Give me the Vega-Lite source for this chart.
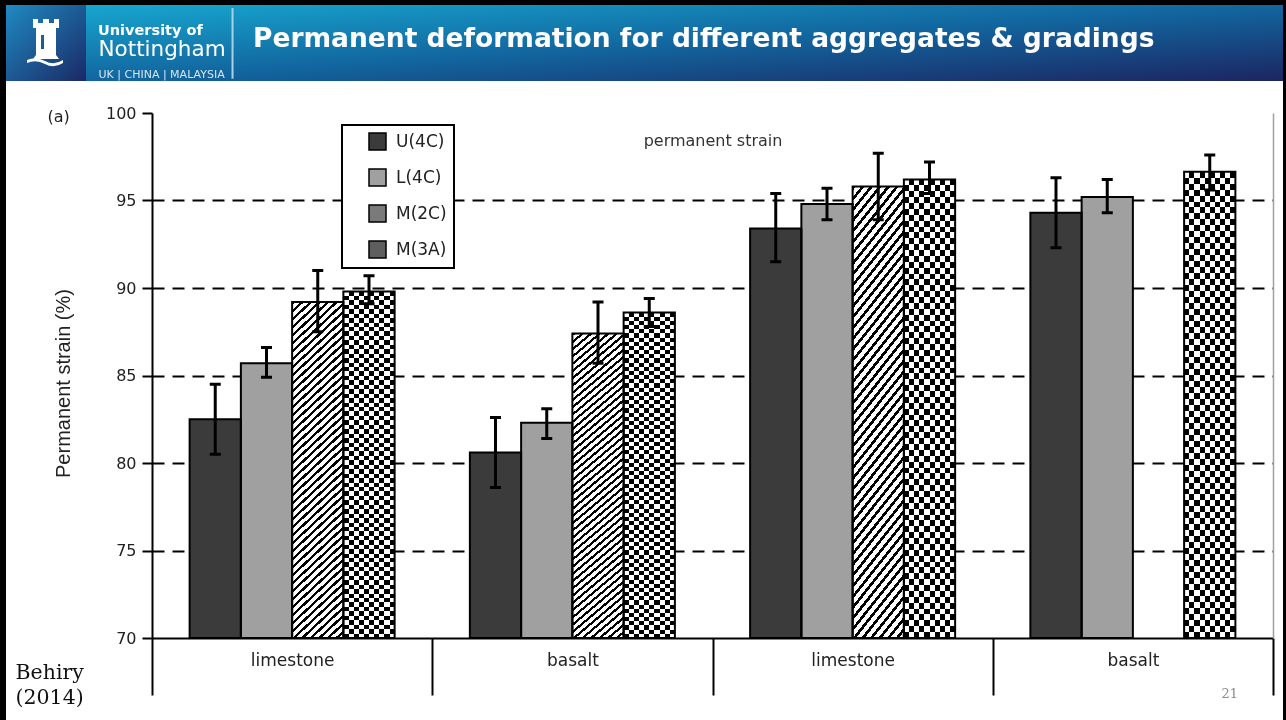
{
  "$schema": "https://vega.github.io/schema/vega-lite/v6.json",
  "background": "#000000",
  "padding": {"left": 6, "top": 5, "right": 3, "bottom": 0},
  "spacing": 0,
  "config": {"view": {"stroke": null}, "font": "DejaVu Sans", "legend": {"strokeWidth": 2}},
  "vconcat": [
    {
      "spacing": 0,
      "hconcat": [
        {
          "width": 80,
          "height": 76,
          "view": {"stroke": null, "fill": {"gradient": "linear", "x1": 0, "y1": 0, "x2": 1, "y2": 1, "stops": [{"offset": 0, "color": "#1f8ac2"}, {"offset": 1, "color": "#1b2966"}]}},
          "data": {"values": [{"emblem": "castle"}]},
          "mark": {"type": "point", "shape": "M-0.542,-1L-0.333,-1L-0.333,-0.833L-0.125,-0.833L-0.125,-1L0.125,-1L0.125,-0.833L0.333,-0.833L0.333,-1L0.542,-1L0.542,-0.625L0.417,-0.625L0.417,0.5L0.542,0.667L-0.542,0.667L-0.417,0.5L-0.417,-0.625L-0.542,-0.625ZM-0.208,-0.333L-0.208,0.25L-0.083,0.25L-0.083,-0.333ZM-0.792,0.708Q-0.417,0.542,-0.042,0.75Q0.333,0.958,0.708,0.708L0.708,0.833Q0.333,1.083,-0.042,0.875Q-0.417,0.667,-0.792,0.833Z", "size": 2304, "filled": true, "fill": "#ffffff", "opacity": 1, "strokeWidth": 0}
        },
        {
          "width": 148,
          "height": 76,
          "view": {"stroke": null, "fill": {"gradient": "linear", "x1": 0, "y1": 0, "x2": 0.2435, "y2": 1.97, "stops": [{"offset": 0, "color": "#17a6cf"}, {"offset": 0.5, "color": "#12669f"}, {"offset": 1, "color": "#1c2561"}]}},
          "title": {"text": "University of", "orient": "top", "anchor": "start", "frame": "group", "offset": -44.5, "dx": 12, "baseline": "alphabetic", "font": "DejaVu Sans", "fontSize": 14.5, "fontWeight": "bold", "color": "#ffffff"},
          "data": {"values": [{"part": "separator"}]},
          "mark": {"type": "rule", "color": "#a9d0e6", "strokeWidth": 2},
          "encoding": {
            "x": {"datum": 0.99, "type": "quantitative", "scale": {"domain": [0, 1]}, "axis": {"orient": "bottom", "domain": false, "ticks": false, "labels": false, "grid": false, "title": "UK | CHINA | MALAYSIA", "titleX": 12, "titleY": -4, "titleAlign": "left", "titleAnchor": "start", "titleBaseline": "alphabetic", "titleFont": "DejaVu Sans", "titleFontSize": 11, "titleFontWeight": "normal", "titleColor": "#d3e6f2", "titlePadding": 0}},
            "y": {"datum": 0.03, "type": "quantitative", "scale": {"domain": [0, 1]}, "axis": {"orient": "left", "domain": false, "ticks": false, "labels": false, "grid": false, "title": "Nottingham", "titleX": 12, "titleY": 50, "titleAngle": 0, "titleAlign": "left", "titleAnchor": "start", "titleBaseline": "alphabetic", "titleFont": "DejaVu Sans", "titleFontSize": 21.5, "titleFontWeight": "normal", "titleColor": "#ffffff"}},
            "y2": {"datum": 0.96}
          }
        },
        {
          "width": 1049,
          "height": 76,
          "view": {"stroke": null, "fill": {"gradient": "linear", "x1": -0.141, "y1": 0, "x2": 0.8503, "y2": 1.1312, "stops": [{"offset": 0, "color": "#17a6cf"}, {"offset": 0.5, "color": "#12669f"}, {"offset": 1, "color": "#1c2561"}]}},
          "title": {"text": "Permanent deformation for different aggregates & gradings", "orient": "top", "anchor": "start", "frame": "group", "offset": -68.5, "dx": 19, "baseline": "alphabetic", "font": "DejaVu Sans", "fontSize": 26.5, "fontWeight": "bold", "color": "#ffffff"},
          "data": {"values": []},
          "mark": "point"
        }
      ]
    },
    {
      "width": 1277,
      "height": 639,
      "view": {"fill": "#ffffff", "stroke": null},
      "title": {"text": "permanent strain", "orient": "top", "anchor": "middle", "frame": "group", "offset": -81, "dx": 68.5, "baseline": "alphabetic", "font": "DejaVu Sans", "fontSize": 16, "fontWeight": "normal", "color": "#333333"},
      "data": {"values": [
        {"group": "limestone 1", "grade": "U(4C)", "strain": 82.5, "low": 80.5, "high": 84.5},
        {"group": "limestone 1", "grade": "L(4C)", "strain": 85.7, "low": 84.9, "high": 86.6},
        {"group": "limestone 1", "grade": "M(2C)", "strain": 89.2, "low": 87.5, "high": 91.0},
        {"group": "limestone 1", "grade": "M(3A)", "strain": 89.8, "low": 89.1, "high": 90.7},
        {"group": "basalt 1", "grade": "U(4C)", "strain": 80.6, "low": 78.6, "high": 82.6},
        {"group": "basalt 1", "grade": "L(4C)", "strain": 82.3, "low": 81.4, "high": 83.1},
        {"group": "basalt 1", "grade": "M(2C)", "strain": 87.4, "low": 85.7, "high": 89.2},
        {"group": "basalt 1", "grade": "M(3A)", "strain": 88.6, "low": 87.8, "high": 89.4},
        {"group": "limestone 2", "grade": "U(4C)", "strain": 93.4, "low": 91.5, "high": 95.4},
        {"group": "limestone 2", "grade": "L(4C)", "strain": 94.8, "low": 93.9, "high": 95.7},
        {"group": "limestone 2", "grade": "M(2C)", "strain": 95.8, "low": 93.9, "high": 97.7},
        {"group": "limestone 2", "grade": "M(3A)", "strain": 96.2, "low": 95.4, "high": 97.2},
        {"group": "basalt 2", "grade": "U(4C)", "strain": 94.3, "low": 92.3, "high": 96.3},
        {"group": "basalt 2", "grade": "L(4C)", "strain": 95.2, "low": 94.3, "high": 96.2},
        {"group": "basalt 2", "grade": "M(3A)", "strain": 96.65, "low": 95.6, "high": 97.6}
      ]},
      "resolve": {"axis": {"x": "independent", "y": "independent"}},
      "layer": [
        {
          "mark": {"type": "bar", "strokeWidth": 0},
          "encoding": {
            "x": {"field": "group", "type": "nominal", "scale": {"domain": ["limestone 1", "basalt 1", "limestone 2", "basalt 2"], "range": [146, 1267], "paddingInner": 0, "paddingOuter": 0},
              "axis": {"orient": "bottom", "offset": -82, "domainColor": "#000000", "domainWidth": 2, "tickBand": "extent", "tickColor": "#000000", "tickWidth": 2, "tickSize": 57, "labelExpr": "split(datum.label, ' ')[0]", "labelAngle": 0, "labelFont": "DejaVu Sans", "labelFontSize": 17, "labelColor": "#222222", "labelPadding": -43, "grid": false, "title": ["Behiry", "(2014)"], "titleX": 9, "titleY": 40, "titleAlign": "left", "titleAnchor": "start", "titleBaseline": "alphabetic", "titleFont": "DejaVu Serif", "titleFontSize": 20.5, "titleFontWeight": "normal", "titleColor": "#111111", "titleLineHeight": 25}},
            "xOffset": {"field": "grade", "type": "nominal", "scale": {"domain": ["U(4C)", "L(4C)", "M(2C)", "M(3A)"], "paddingInner": 0, "paddingOuter": 0.734}},
            "y": {"field": "strain", "type": "quantitative", "scale": {"domain": [70, 100], "range": [557, 32], "nice": false, "zero": false},
              "axis": {"orient": "left", "offset": -146, "values": [70, 75, 80, 85, 90, 95, 100], "domainColor": "#000000", "domainWidth": 2, "tickColor": "#000000", "tickWidth": 2, "tickSize": 10, "labelFont": "DejaVu Sans", "labelFontSize": 16, "labelColor": "#222222", "labelPadding": 6, "grid": true, "gridColor": "#000000", "gridWidth": 2, "gridDash": [12, 8], "gridOpacity": {"condition": {"test": "datum.value <= 70 || datum.value >= 100", "value": 0}, "value": 1}, "title": "Permanent strain (%)", "titleFont": "Liberation Sans", "titleFontSize": 20, "titleFontWeight": "normal", "titleColor": "#222222", "titlePadding": 32, "titleY": 302}},
            "y2": {"datum": 70},
            "fill": {"condition": [{"test": "datum.grade === 'U(4C)'", "value": "#3b3b3b"}, {"test": "datum.grade === 'L(4C)'", "value": "#a0a0a0"}], "value": "#ffffff"}
          }
        },
        {
          "transform": [{"filter": "datum.grade === 'M(2C)'"}],
          "mark": {"type": "bar", "strokeWidth": 0, "fill": {"gradient": "linear", "x1": 0, "y1": 0, "x2": 0.1595, "y2": 1.1198, "stops": [
            {"offset": 0, "color": "#000"}, {"offset": 0.0083, "color": "#000"}, {"offset": 0.0083, "color": "#fff"}, {"offset": 0.0208, "color": "#fff"},
            {"offset": 0.0208, "color": "#000"}, {"offset": 0.0292, "color": "#000"}, {"offset": 0.0292, "color": "#fff"}, {"offset": 0.0417, "color": "#fff"},
            {"offset": 0.0417, "color": "#000"}, {"offset": 0.05, "color": "#000"}, {"offset": 0.05, "color": "#fff"}, {"offset": 0.0625, "color": "#fff"},
            {"offset": 0.0625, "color": "#000"}, {"offset": 0.0708, "color": "#000"}, {"offset": 0.0708, "color": "#fff"}, {"offset": 0.0833, "color": "#fff"},
            {"offset": 0.0833, "color": "#000"}, {"offset": 0.0917, "color": "#000"}, {"offset": 0.0917, "color": "#fff"}, {"offset": 0.1042, "color": "#fff"},
            {"offset": 0.1042, "color": "#000"}, {"offset": 0.1125, "color": "#000"}, {"offset": 0.1125, "color": "#fff"}, {"offset": 0.125, "color": "#fff"},
            {"offset": 0.125, "color": "#000"}, {"offset": 0.1333, "color": "#000"}, {"offset": 0.1333, "color": "#fff"}, {"offset": 0.1458, "color": "#fff"},
            {"offset": 0.1458, "color": "#000"}, {"offset": 0.1542, "color": "#000"}, {"offset": 0.1542, "color": "#fff"}, {"offset": 0.1667, "color": "#fff"},
            {"offset": 0.1667, "color": "#000"}, {"offset": 0.175, "color": "#000"}, {"offset": 0.175, "color": "#fff"}, {"offset": 0.1875, "color": "#fff"},
            {"offset": 0.1875, "color": "#000"}, {"offset": 0.1958, "color": "#000"}, {"offset": 0.1958, "color": "#fff"}, {"offset": 0.2083, "color": "#fff"},
            {"offset": 0.2083, "color": "#000"}, {"offset": 0.2167, "color": "#000"}, {"offset": 0.2167, "color": "#fff"}, {"offset": 0.2292, "color": "#fff"},
            {"offset": 0.2292, "color": "#000"}, {"offset": 0.2375, "color": "#000"}, {"offset": 0.2375, "color": "#fff"}, {"offset": 0.25, "color": "#fff"},
            {"offset": 0.25, "color": "#000"}, {"offset": 0.2583, "color": "#000"}, {"offset": 0.2583, "color": "#fff"}, {"offset": 0.2708, "color": "#fff"},
            {"offset": 0.2708, "color": "#000"}, {"offset": 0.2792, "color": "#000"}, {"offset": 0.2792, "color": "#fff"}, {"offset": 0.2917, "color": "#fff"},
            {"offset": 0.2917, "color": "#000"}, {"offset": 0.3, "color": "#000"}, {"offset": 0.3, "color": "#fff"}, {"offset": 0.3125, "color": "#fff"},
            {"offset": 0.3125, "color": "#000"}, {"offset": 0.3208, "color": "#000"}, {"offset": 0.3208, "color": "#fff"}, {"offset": 0.3333, "color": "#fff"},
            {"offset": 0.3333, "color": "#000"}, {"offset": 0.3417, "color": "#000"}, {"offset": 0.3417, "color": "#fff"}, {"offset": 0.3542, "color": "#fff"},
            {"offset": 0.3542, "color": "#000"}, {"offset": 0.3625, "color": "#000"}, {"offset": 0.3625, "color": "#fff"}, {"offset": 0.375, "color": "#fff"},
            {"offset": 0.375, "color": "#000"}, {"offset": 0.3833, "color": "#000"}, {"offset": 0.3833, "color": "#fff"}, {"offset": 0.3958, "color": "#fff"},
            {"offset": 0.3958, "color": "#000"}, {"offset": 0.4042, "color": "#000"}, {"offset": 0.4042, "color": "#fff"}, {"offset": 0.4167, "color": "#fff"},
            {"offset": 0.4167, "color": "#000"}, {"offset": 0.425, "color": "#000"}, {"offset": 0.425, "color": "#fff"}, {"offset": 0.4375, "color": "#fff"},
            {"offset": 0.4375, "color": "#000"}, {"offset": 0.4458, "color": "#000"}, {"offset": 0.4458, "color": "#fff"}, {"offset": 0.4583, "color": "#fff"},
            {"offset": 0.4583, "color": "#000"}, {"offset": 0.4667, "color": "#000"}, {"offset": 0.4667, "color": "#fff"}, {"offset": 0.4792, "color": "#fff"},
            {"offset": 0.4792, "color": "#000"}, {"offset": 0.4875, "color": "#000"}, {"offset": 0.4875, "color": "#fff"}, {"offset": 0.5, "color": "#fff"},
            {"offset": 0.5, "color": "#000"}, {"offset": 0.5083, "color": "#000"}, {"offset": 0.5083, "color": "#fff"}, {"offset": 0.5208, "color": "#fff"},
            {"offset": 0.5208, "color": "#000"}, {"offset": 0.5292, "color": "#000"}, {"offset": 0.5292, "color": "#fff"}, {"offset": 0.5417, "color": "#fff"},
            {"offset": 0.5417, "color": "#000"}, {"offset": 0.55, "color": "#000"}, {"offset": 0.55, "color": "#fff"}, {"offset": 0.5625, "color": "#fff"},
            {"offset": 0.5625, "color": "#000"}, {"offset": 0.5708, "color": "#000"}, {"offset": 0.5708, "color": "#fff"}, {"offset": 0.5833, "color": "#fff"},
            {"offset": 0.5833, "color": "#000"}, {"offset": 0.5917, "color": "#000"}, {"offset": 0.5917, "color": "#fff"}, {"offset": 0.6042, "color": "#fff"},
            {"offset": 0.6042, "color": "#000"}, {"offset": 0.6125, "color": "#000"}, {"offset": 0.6125, "color": "#fff"}, {"offset": 0.625, "color": "#fff"},
            {"offset": 0.625, "color": "#000"}, {"offset": 0.6333, "color": "#000"}, {"offset": 0.6333, "color": "#fff"}, {"offset": 0.6458, "color": "#fff"},
            {"offset": 0.6458, "color": "#000"}, {"offset": 0.6542, "color": "#000"}, {"offset": 0.6542, "color": "#fff"}, {"offset": 0.6667, "color": "#fff"},
            {"offset": 0.6667, "color": "#000"}, {"offset": 0.675, "color": "#000"}, {"offset": 0.675, "color": "#fff"}, {"offset": 0.6875, "color": "#fff"},
            {"offset": 0.6875, "color": "#000"}, {"offset": 0.6958, "color": "#000"}, {"offset": 0.6958, "color": "#fff"}, {"offset": 0.7083, "color": "#fff"},
            {"offset": 0.7083, "color": "#000"}, {"offset": 0.7167, "color": "#000"}, {"offset": 0.7167, "color": "#fff"}, {"offset": 0.7292, "color": "#fff"},
            {"offset": 0.7292, "color": "#000"}, {"offset": 0.7375, "color": "#000"}, {"offset": 0.7375, "color": "#fff"}, {"offset": 0.75, "color": "#fff"},
            {"offset": 0.75, "color": "#000"}, {"offset": 0.7583, "color": "#000"}, {"offset": 0.7583, "color": "#fff"}, {"offset": 0.7708, "color": "#fff"},
            {"offset": 0.7708, "color": "#000"}, {"offset": 0.7792, "color": "#000"}, {"offset": 0.7792, "color": "#fff"}, {"offset": 0.7917, "color": "#fff"},
            {"offset": 0.7917, "color": "#000"}, {"offset": 0.8, "color": "#000"}, {"offset": 0.8, "color": "#fff"}, {"offset": 0.8125, "color": "#fff"},
            {"offset": 0.8125, "color": "#000"}, {"offset": 0.8208, "color": "#000"}, {"offset": 0.8208, "color": "#fff"}, {"offset": 0.8333, "color": "#fff"},
            {"offset": 0.8333, "color": "#000"}, {"offset": 0.8417, "color": "#000"}, {"offset": 0.8417, "color": "#fff"}, {"offset": 0.8542, "color": "#fff"},
            {"offset": 0.8542, "color": "#000"}, {"offset": 0.8625, "color": "#000"}, {"offset": 0.8625, "color": "#fff"}, {"offset": 0.875, "color": "#fff"},
            {"offset": 0.875, "color": "#000"}, {"offset": 0.8833, "color": "#000"}, {"offset": 0.8833, "color": "#fff"}, {"offset": 0.8958, "color": "#fff"},
            {"offset": 0.8958, "color": "#000"}, {"offset": 0.9042, "color": "#000"}, {"offset": 0.9042, "color": "#fff"}, {"offset": 0.9167, "color": "#fff"},
            {"offset": 0.9167, "color": "#000"}, {"offset": 0.925, "color": "#000"}, {"offset": 0.925, "color": "#fff"}, {"offset": 0.9375, "color": "#fff"},
            {"offset": 0.9375, "color": "#000"}, {"offset": 0.9458, "color": "#000"}, {"offset": 0.9458, "color": "#fff"}, {"offset": 0.9583, "color": "#fff"},
            {"offset": 0.9583, "color": "#000"}, {"offset": 0.9667, "color": "#000"}, {"offset": 0.9667, "color": "#fff"}, {"offset": 0.9792, "color": "#fff"},
            {"offset": 0.9792, "color": "#000"}, {"offset": 0.9875, "color": "#000"}, {"offset": 0.9875, "color": "#fff"}, {"offset": 1, "color": "#fff"}
          ]}},
          "encoding": {
            "x": {"field": "group", "type": "nominal", "scale": {"domain": ["limestone 1", "basalt 1", "limestone 2", "basalt 2"], "range": [146, 1267], "paddingInner": 0, "paddingOuter": 0}, "axis": null},
            "xOffset": {"field": "grade", "type": "nominal", "scale": {"domain": ["U(4C)", "L(4C)", "M(2C)", "M(3A)"], "paddingInner": 0, "paddingOuter": 0.734}},
            "y": {"field": "strain", "type": "quantitative", "scale": {"domain": [70, 100], "range": [557, 32], "nice": false, "zero": false}, "axis": null},
            "y2": {"datum": 70}
          }
        },
        {
          "transform": [{"filter": "datum.grade === 'M(3A)'"}],
          "mark": {"type": "bar", "strokeWidth": 0, "fill": {"gradient": "linear", "x1": 0, "y1": 0, "x2": 1, "y2": 0, "stops": [
            {"offset": 0, "color": "#000"}, {"offset": 0.1, "color": "#000"}, {"offset": 0.1, "color": "#fff"}, {"offset": 0.2, "color": "#fff"},
            {"offset": 0.2, "color": "#000"}, {"offset": 0.3, "color": "#000"}, {"offset": 0.3, "color": "#fff"}, {"offset": 0.4, "color": "#fff"},
            {"offset": 0.4, "color": "#000"}, {"offset": 0.5, "color": "#000"}, {"offset": 0.5, "color": "#fff"}, {"offset": 0.6, "color": "#fff"},
            {"offset": 0.6, "color": "#000"}, {"offset": 0.7, "color": "#000"}, {"offset": 0.7, "color": "#fff"}, {"offset": 0.8, "color": "#fff"},
            {"offset": 0.8, "color": "#000"}, {"offset": 0.9, "color": "#000"}, {"offset": 0.9, "color": "#fff"}, {"offset": 1, "color": "#fff"}
          ]}},
          "encoding": {
            "x": {"field": "group", "type": "nominal", "scale": {"domain": ["limestone 1", "basalt 1", "limestone 2", "basalt 2"], "range": [146, 1267], "paddingInner": 0, "paddingOuter": 0}, "axis": null},
            "xOffset": {"field": "grade", "type": "nominal", "scale": {"domain": ["U(4C)", "L(4C)", "M(2C)", "M(3A)"], "paddingInner": 0, "paddingOuter": 0.734}},
            "y": {"field": "strain", "type": "quantitative", "scale": {"domain": [70, 100], "range": [557, 32], "nice": false, "zero": false}, "axis": null},
            "y2": {"datum": 70}
          }
        },
        {
          "transform": [{"filter": "datum.grade === 'M(3A)'"}],
          "mark": {"type": "bar", "strokeWidth": 0, "blend": "difference", "fill": {"gradient": "linear", "x1": 0.5, "y1": 0, "x2": 0.5, "y2": 1, "stops": [
            {"offset": 0, "color": "#fff"}, {"offset": 0.0128, "color": "#fff"}, {"offset": 0.0128, "color": "#000"}, {"offset": 0.0256, "color": "#000"},
            {"offset": 0.0256, "color": "#fff"}, {"offset": 0.0385, "color": "#fff"}, {"offset": 0.0385, "color": "#000"}, {"offset": 0.0513, "color": "#000"},
            {"offset": 0.0513, "color": "#fff"}, {"offset": 0.0641, "color": "#fff"}, {"offset": 0.0641, "color": "#000"}, {"offset": 0.0769, "color": "#000"},
            {"offset": 0.0769, "color": "#fff"}, {"offset": 0.0897, "color": "#fff"}, {"offset": 0.0897, "color": "#000"}, {"offset": 0.1026, "color": "#000"},
            {"offset": 0.1026, "color": "#fff"}, {"offset": 0.1154, "color": "#fff"}, {"offset": 0.1154, "color": "#000"}, {"offset": 0.1282, "color": "#000"},
            {"offset": 0.1282, "color": "#fff"}, {"offset": 0.141, "color": "#fff"}, {"offset": 0.141, "color": "#000"}, {"offset": 0.1538, "color": "#000"},
            {"offset": 0.1538, "color": "#fff"}, {"offset": 0.1667, "color": "#fff"}, {"offset": 0.1667, "color": "#000"}, {"offset": 0.1795, "color": "#000"},
            {"offset": 0.1795, "color": "#fff"}, {"offset": 0.1923, "color": "#fff"}, {"offset": 0.1923, "color": "#000"}, {"offset": 0.2051, "color": "#000"},
            {"offset": 0.2051, "color": "#fff"}, {"offset": 0.2179, "color": "#fff"}, {"offset": 0.2179, "color": "#000"}, {"offset": 0.2308, "color": "#000"},
            {"offset": 0.2308, "color": "#fff"}, {"offset": 0.2436, "color": "#fff"}, {"offset": 0.2436, "color": "#000"}, {"offset": 0.2564, "color": "#000"},
            {"offset": 0.2564, "color": "#fff"}, {"offset": 0.2692, "color": "#fff"}, {"offset": 0.2692, "color": "#000"}, {"offset": 0.2821, "color": "#000"},
            {"offset": 0.2821, "color": "#fff"}, {"offset": 0.2949, "color": "#fff"}, {"offset": 0.2949, "color": "#000"}, {"offset": 0.3077, "color": "#000"},
            {"offset": 0.3077, "color": "#fff"}, {"offset": 0.3205, "color": "#fff"}, {"offset": 0.3205, "color": "#000"}, {"offset": 0.3333, "color": "#000"},
            {"offset": 0.3333, "color": "#fff"}, {"offset": 0.3462, "color": "#fff"}, {"offset": 0.3462, "color": "#000"}, {"offset": 0.359, "color": "#000"},
            {"offset": 0.359, "color": "#fff"}, {"offset": 0.3718, "color": "#fff"}, {"offset": 0.3718, "color": "#000"}, {"offset": 0.3846, "color": "#000"},
            {"offset": 0.3846, "color": "#fff"}, {"offset": 0.3974, "color": "#fff"}, {"offset": 0.3974, "color": "#000"}, {"offset": 0.4103, "color": "#000"},
            {"offset": 0.4103, "color": "#fff"}, {"offset": 0.4231, "color": "#fff"}, {"offset": 0.4231, "color": "#000"}, {"offset": 0.4359, "color": "#000"},
            {"offset": 0.4359, "color": "#fff"}, {"offset": 0.4487, "color": "#fff"}, {"offset": 0.4487, "color": "#000"}, {"offset": 0.4615, "color": "#000"},
            {"offset": 0.4615, "color": "#fff"}, {"offset": 0.4744, "color": "#fff"}, {"offset": 0.4744, "color": "#000"}, {"offset": 0.4872, "color": "#000"},
            {"offset": 0.4872, "color": "#fff"}, {"offset": 0.5, "color": "#fff"}, {"offset": 0.5, "color": "#000"}, {"offset": 0.5128, "color": "#000"},
            {"offset": 0.5128, "color": "#fff"}, {"offset": 0.5256, "color": "#fff"}, {"offset": 0.5256, "color": "#000"}, {"offset": 0.5385, "color": "#000"},
            {"offset": 0.5385, "color": "#fff"}, {"offset": 0.5513, "color": "#fff"}, {"offset": 0.5513, "color": "#000"}, {"offset": 0.5641, "color": "#000"},
            {"offset": 0.5641, "color": "#fff"}, {"offset": 0.5769, "color": "#fff"}, {"offset": 0.5769, "color": "#000"}, {"offset": 0.5897, "color": "#000"},
            {"offset": 0.5897, "color": "#fff"}, {"offset": 0.6026, "color": "#fff"}, {"offset": 0.6026, "color": "#000"}, {"offset": 0.6154, "color": "#000"},
            {"offset": 0.6154, "color": "#fff"}, {"offset": 0.6282, "color": "#fff"}, {"offset": 0.6282, "color": "#000"}, {"offset": 0.641, "color": "#000"},
            {"offset": 0.641, "color": "#fff"}, {"offset": 0.6538, "color": "#fff"}, {"offset": 0.6538, "color": "#000"}, {"offset": 0.6667, "color": "#000"},
            {"offset": 0.6667, "color": "#fff"}, {"offset": 0.6795, "color": "#fff"}, {"offset": 0.6795, "color": "#000"}, {"offset": 0.6923, "color": "#000"},
            {"offset": 0.6923, "color": "#fff"}, {"offset": 0.7051, "color": "#fff"}, {"offset": 0.7051, "color": "#000"}, {"offset": 0.7179, "color": "#000"},
            {"offset": 0.7179, "color": "#fff"}, {"offset": 0.7308, "color": "#fff"}, {"offset": 0.7308, "color": "#000"}, {"offset": 0.7436, "color": "#000"},
            {"offset": 0.7436, "color": "#fff"}, {"offset": 0.7564, "color": "#fff"}, {"offset": 0.7564, "color": "#000"}, {"offset": 0.7692, "color": "#000"},
            {"offset": 0.7692, "color": "#fff"}, {"offset": 0.7821, "color": "#fff"}, {"offset": 0.7821, "color": "#000"}, {"offset": 0.7949, "color": "#000"},
            {"offset": 0.7949, "color": "#fff"}, {"offset": 0.8077, "color": "#fff"}, {"offset": 0.8077, "color": "#000"}, {"offset": 0.8205, "color": "#000"},
            {"offset": 0.8205, "color": "#fff"}, {"offset": 0.8333, "color": "#fff"}, {"offset": 0.8333, "color": "#000"}, {"offset": 0.8462, "color": "#000"},
            {"offset": 0.8462, "color": "#fff"}, {"offset": 0.859, "color": "#fff"}, {"offset": 0.859, "color": "#000"}, {"offset": 0.8718, "color": "#000"},
            {"offset": 0.8718, "color": "#fff"}, {"offset": 0.8846, "color": "#fff"}, {"offset": 0.8846, "color": "#000"}, {"offset": 0.8974, "color": "#000"},
            {"offset": 0.8974, "color": "#fff"}, {"offset": 0.9103, "color": "#fff"}, {"offset": 0.9103, "color": "#000"}, {"offset": 0.9231, "color": "#000"},
            {"offset": 0.9231, "color": "#fff"}, {"offset": 0.9359, "color": "#fff"}, {"offset": 0.9359, "color": "#000"}, {"offset": 0.9487, "color": "#000"},
            {"offset": 0.9487, "color": "#fff"}, {"offset": 0.9615, "color": "#fff"}, {"offset": 0.9615, "color": "#000"}, {"offset": 0.9744, "color": "#000"},
            {"offset": 0.9744, "color": "#fff"}, {"offset": 0.9872, "color": "#fff"}, {"offset": 0.9872, "color": "#000"}, {"offset": 1, "color": "#000"}
          ]}},
          "encoding": {
            "x": {"field": "group", "type": "nominal", "scale": {"domain": ["limestone 1", "basalt 1", "limestone 2", "basalt 2"], "range": [146, 1267], "paddingInner": 0, "paddingOuter": 0}, "axis": null},
            "xOffset": {"field": "grade", "type": "nominal", "scale": {"domain": ["U(4C)", "L(4C)", "M(2C)", "M(3A)"], "paddingInner": 0, "paddingOuter": 0.734}},
            "y": {"field": "strain", "type": "quantitative", "scale": {"domain": [70, 100], "range": [557, 32], "nice": false, "zero": false}, "axis": null},
            "y2": {"datum": 70}
          }
        },
        {
          "mark": {"type": "bar", "fillOpacity": 0, "stroke": "#000000", "strokeWidth": 2},
          "encoding": {
            "x": {"field": "group", "type": "nominal", "scale": {"domain": ["limestone 1", "basalt 1", "limestone 2", "basalt 2"], "range": [146, 1267], "paddingInner": 0, "paddingOuter": 0}, "axis": null},
            "xOffset": {"field": "grade", "type": "nominal", "scale": {"domain": ["U(4C)", "L(4C)", "M(2C)", "M(3A)"], "paddingInner": 0, "paddingOuter": 0.734}},
            "y": {"field": "strain", "type": "quantitative", "scale": {"domain": [70, 100], "range": [557, 32], "nice": false, "zero": false}, "axis": null},
            "y2": {"datum": 70}
          }
        },
        {
          "mark": {"type": "point", "opacity": 0, "shape": "square"},
          "encoding": {
            "x": {"field": "group", "type": "nominal", "scale": {"domain": ["limestone 1", "basalt 1", "limestone 2", "basalt 2"], "range": [146, 1267], "paddingInner": 0, "paddingOuter": 0}, "axis": null},
            "xOffset": {"field": "grade", "type": "nominal", "scale": {"domain": ["U(4C)", "L(4C)", "M(2C)", "M(3A)"], "paddingInner": 0, "paddingOuter": 0.734}},
            "y": {"field": "strain", "type": "quantitative", "scale": {"domain": [70, 100], "range": [557, 32], "nice": false, "zero": false}, "axis": null},
            "fill": {"field": "grade", "type": "nominal",
              "scale": {"domain": ["U(4C)", "L(4C)", "M(2C)", "M(3A)"], "range": ["#3b3b3b", "#a0a0a0", "#7a7a7a", "#5e5e5e"]},
              "legend": {"title": null, "orient": "none", "legendX": 336, "legendY": 120, "direction": "vertical", "fillColor": "#ffffff", "strokeColor": "#000000", "padding": 7, "symbolType": "square", "symbolSize": 289, "symbolOpacity": 1, "symbolStrokeColor": "#000000", "symbolStrokeWidth": 1.5, "symbolOffset": 19, "rowPadding": 13, "labelFont": "DejaVu Sans", "labelFontSize": 17, "labelColor": "#222222", "labelOffset": 9}
            }
          }
        },
        {
          "mark": {"type": "rule", "color": "#000000", "strokeWidth": 3},
          "encoding": {
            "x": {"field": "group", "type": "nominal", "scale": {"domain": ["limestone 1", "basalt 1", "limestone 2", "basalt 2"], "range": [146, 1267], "paddingInner": 0, "paddingOuter": 0},
              "axis": {"orient": "top", "domain": false, "ticks": false, "labels": false, "grid": false, "title": "21", "titleX": 1215, "titleY": 616, "titleAlign": "left", "titleAnchor": "start", "titleBaseline": "alphabetic", "titleFont": "DejaVu Serif", "titleFontSize": 13, "titleFontWeight": "normal", "titleColor": "#8c8c8c"}},
            "xOffset": {"field": "grade", "type": "nominal", "scale": {"domain": ["U(4C)", "L(4C)", "M(2C)", "M(3A)"], "paddingInner": 0, "paddingOuter": 0.734}},
            "y": {"field": "low", "type": "quantitative", "scale": {"domain": [70, 100], "range": [557, 32], "nice": false, "zero": false},
              "axis": {"orient": "right", "offset": -10, "domain": true, "domainColor": "#a0a0a0", "domainWidth": 1.5, "ticks": false, "labels": false, "grid": false, "title": "(a)", "titleX": -1226, "titleY": 40, "titleAngle": 0, "titleAlign": "left", "titleAnchor": "start", "titleBaseline": "alphabetic", "titleFont": "DejaVu Sans", "titleFontSize": 16, "titleFontWeight": "normal", "titleColor": "#222222"}},
            "y2": {"field": "high"}
          }
        },
        {
          "mark": {"type": "tick", "color": "#000000", "size": 11, "thickness": 3, "opacity": 1},
          "encoding": {
            "x": {"field": "group", "type": "nominal", "scale": {"domain": ["limestone 1", "basalt 1", "limestone 2", "basalt 2"], "range": [146, 1267], "paddingInner": 0, "paddingOuter": 0}, "axis": null},
            "xOffset": {"field": "grade", "type": "nominal", "scale": {"domain": ["U(4C)", "L(4C)", "M(2C)", "M(3A)"], "paddingInner": 0, "paddingOuter": 0.734}},
            "y": {"field": "low", "type": "quantitative", "scale": {"domain": [70, 100], "range": [557, 32], "nice": false, "zero": false}, "axis": null}
          }
        },
        {
          "mark": {"type": "tick", "color": "#000000", "size": 11, "thickness": 3, "opacity": 1},
          "encoding": {
            "x": {"field": "group", "type": "nominal", "scale": {"domain": ["limestone 1", "basalt 1", "limestone 2", "basalt 2"], "range": [146, 1267], "paddingInner": 0, "paddingOuter": 0}, "axis": null},
            "xOffset": {"field": "grade", "type": "nominal", "scale": {"domain": ["U(4C)", "L(4C)", "M(2C)", "M(3A)"], "paddingInner": 0, "paddingOuter": 0.734}},
            "y": {"field": "high", "type": "quantitative", "scale": {"domain": [70, 100], "range": [557, 32], "nice": false, "zero": false}, "axis": null}
          }
        }
      ]
    }
  ]
}
